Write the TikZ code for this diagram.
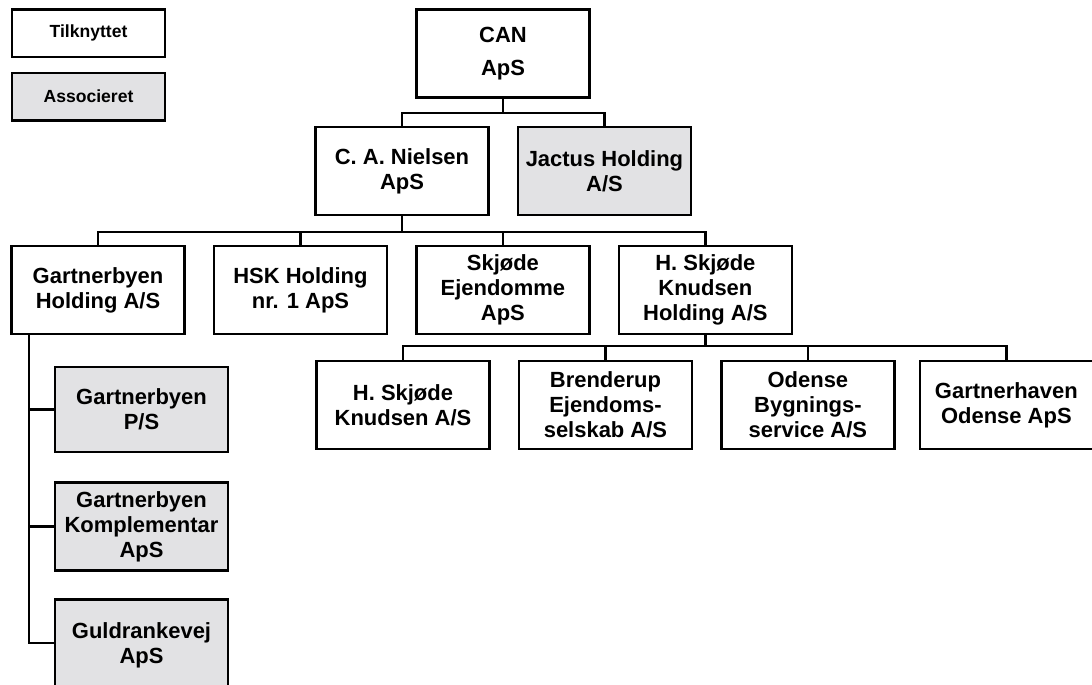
\documentclass[tikz,border=0pt]{standalone}
\usepackage{fontspec}
\setmainfont{Liberation Sans}
\usepackage{tikz}
\usetikzlibrary{shapes.geometric, arrows}
\definecolor{assoccolor}{RGB}{226, 226, 228}
\tikzstyle{firm} = [rectangle, minimum width=3.46cm, minimum height=1.76cm,
                    inner sep=1pt, text centered, align=center, draw=black,
                    fill=white, line width=0.5mm,
                    font=\bfseries\fontsize{12.5}{14.2}\selectfont]
\tikzstyle{assoc} = [firm, fill=assoccolor]
\tikzstyle{legend} = [firm, minimum width=3.06cm, minimum height=0.95cm,
                      font=\bfseries\fontsize{10}{12}\selectfont]
\tikzstyle{link} = [line width=0.45mm, line cap=rect]

\begin{document}
\begin{tikzpicture}[x=0.02cm, y=-0.02cm, node distance=4.05cm]
        \useasboundingbox (0,0) rectangle (1092,684);

        %Legend
        \node (Tilk) [legend] at (88.5,33) {Tilknyttet};
        \node (Asso) [legend, fill=assoccolor] at (88.5,96.5) {Associeret};

        %Top company
        \node (CAN) [firm] at (503,53.5) {CAN\\[5pt]ApS};

        %Second level
        \node (Nielsen) [firm] at (402,171) {C. A. Nielsen\\ApS};
        \node (Jactus) [assoc, right of = Nielsen] {Jactus Holding\\A/S};

        %Third level
        \node (GHold) [firm] at (98,290) {Gartnerbyen\\Holding A/S};
        \node (HSK) [firm, right of = GHold] {HSK Holding\\nr. 1 ApS};
        \node (Skjode) [firm, right of = HSK] {Skjøde\\Ejendomme\\ApS};
        \node (HSKH) [firm, right of = Skjode] {H. Skjøde\\Knudsen\\Holding A/S};

        %Fourth level
        \node (HSKAS) [firm] at (403,405) {H. Skjøde\\Knudsen A/S};
        \node (Brend) [firm, right of = HSKAS] {Brenderup\\Ejendoms-\\selskab A/S};
        \node (Odense) [firm, right of = Brend] {Odense\\Bygnings-\\service A/S};
        \node (GHaven) [firm, right of = Odense, xshift=-0.08cm] {Gartnerhaven\\Odense ApS};

        %Gartnerbyen column
        \node (GPS) [assoc, minimum height=1.7cm] at (141.5,409.5) {Gartnerbyen\\P/S};
        \node (GKompl) [assoc, below of = GPS, node distance=2.34cm] {Gartnerbyen\\Komplementar\\ApS};
        \node (Guld) [assoc, below of = GKompl, node distance=2.34cm,
                      minimum height=1.84cm, yshift=-0.04cm] {Guldrankevej\\ApS};

        \coordinate (bus1) at (0,113);
        \coordinate (bus2) at (0,232);
        \coordinate (bus3) at (0,346);

        %CAN to second level
        \draw [link] (CAN) -- (CAN |- bus1) -| (Nielsen);
        \draw [link] (CAN |- bus1) -| (Jactus);

        %Nielsen to third level
        \draw [link] (Nielsen) -- (Nielsen |- bus2) -| (GHold);
        \draw [link] (Nielsen |- bus2) -| (HSK);
        \draw [link] (Nielsen |- bus2) -| (Skjode);
        \draw [link] (Nielsen |- bus2) -| (HSKH);

        %Holding to fourth level
        \draw [link] (HSKH) -- (HSKH |- bus3) -| (HSKAS);
        \draw [link] (HSKH |- bus3) -| (Brend);
        \draw [link] (HSKH |- bus3) -| (Odense);
        \draw [link] (HSKH |- bus3) -| (GHaven);

        %Gartnerbyen Holding to its companies
        \draw [link] ([xshift=0.38cm]GHold.south west) |- (GPS);
        \draw [link] ([xshift=0.38cm]GHold.south west) |- (GKompl);
        \draw [link] ([xshift=0.38cm]GHold.south west) |- (Guld.west |- 0,643);

    \end{tikzpicture}
\end{document}
